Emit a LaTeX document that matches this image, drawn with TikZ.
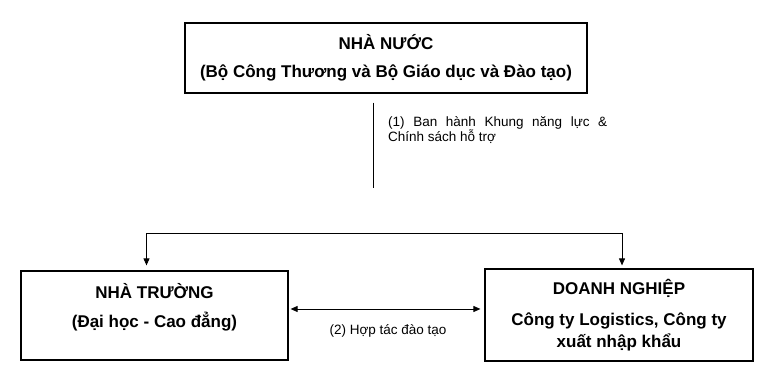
\documentclass[tikz,border=0pt]{standalone}
\usepackage{fontspec}
\setmainfont{Liberation Sans}
\usepackage{tikz}
\usetikzlibrary{arrows.meta,positioning}

\begin{document}
\begin{tikzpicture}[
  x=1pt, y=1pt,
  actor/.style={draw, line width=1.2pt, inner sep=0pt, align=center, font=\fontsize{17}{22}\selectfont\bfseries},
  note/.style={inner sep=0pt, font=\fontsize{13.5}{15}\selectfont},
  arrow/.style={-{Triangle[length=7pt,width=6pt]}, line width=0.9pt},
  both/.style={{Triangle[length=7pt,width=6pt]}-{Triangle[length=7pt,width=6pt]}, line width=0.9pt}
]
\useasboundingbox (0,0) rectangle (768,380);

\node[actor, minimum width=402pt, minimum height=70pt] (state) at (386,322)
  {NHÀ NƯỚC\\[6pt](Bộ Công Thương và Bộ Giáo dục và Đào tạo)};
\node[actor, minimum width=267pt, minimum height=89pt, text depth=20pt] (school) at (154.5,64.5)
  {NHÀ TRƯỜNG\\[7pt](Đại học - Cao đẳng)};
\node[actor, minimum width=268pt, minimum height=92pt] (firm) at (619,65)
  {DOANH NGHIỆP\\[9pt]Công ty Logistics, Công ty\\xuất nhập khẩu};

\coordinate (stem) at (373,192);
\coordinate (fork) at (386,147);

\node[note, anchor=north west, text width=219pt, align=justify] (policy) at (388,264)
  {(1) Ban hành Khung năng lực \&\linebreak Chính sách hỗ trợ};
\node[note] (coop) at (388,49) {(2) Hợp tác đào tạo};

\draw[line width=0.9pt] ([xshift=-13pt,yshift=-9pt]state.south) -- (stem);
\draw[arrow, shorten >=5pt] (fork) -| ([xshift=-8pt]school.north);
\draw[arrow, shorten >=3pt] (fork) -| ([xshift=3pt]firm.north);
\draw[both, shorten <=2pt, shorten >=4pt] ([yshift=6.5pt]school.east) -- ([yshift=6.5pt]school.east -| firm.west);
\end{tikzpicture}
\end{document}
